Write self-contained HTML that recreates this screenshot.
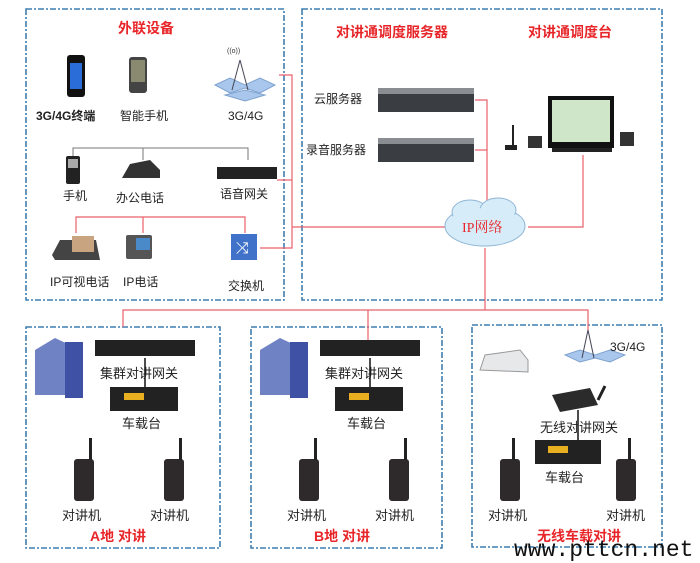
<!DOCTYPE html>
<html><head><meta charset="utf-8"><style>
body{margin:0;background:#fff;}
svg{display:block;font-family:"Liberation Sans","Noto Sans CJK SC",sans-serif;}
.t{font-size:12px;fill:#222;}
.r{font-size:14px;fill:#e8262a;font-weight:bold;}
</style></head><body>
<svg width="700" height="563" viewBox="0 0 700 563">
<g fill="none" stroke="#3f7fb0" stroke-width="1.6" stroke-dasharray="6,2,2,2">
<rect x="26" y="9" width="258" height="291"/>
<rect x="302" y="9" width="360" height="291"/>
<rect x="26" y="327" width="194" height="221"/>
<rect x="251" y="327" width="191" height="221"/>
<rect x="472" y="325" width="190" height="222"/>
</g>
<g stroke="#e8606a" stroke-width="1.2" fill="none">
<polyline points="279,75 292,75 292,248 260,248"/>
<line x1="277" y1="180" x2="292" y2="180"/>
<line x1="292" y1="227" x2="445" y2="227"/>
<polyline points="475,100 487,100 487,205"/>
<line x1="475" y1="150" x2="487" y2="150"/>
<polyline points="583,155 583,227 528,227"/>
<line x1="485" y1="248" x2="485" y2="310"/>
<polyline points="123,327 123,310 588,310 588,330"/>
<line x1="368" y1="310" x2="368" y2="340"/>
<polyline points="76,233 76,217 245,217 245,233"/>
<line x1="143" y1="217" x2="143" y2="233"/>
</g>
<g stroke="#777" stroke-width="1" fill="none">
<polyline points="73,160 73,148 248,148 248,160"/>
<line x1="143" y1="148" x2="143" y2="160"/>
</g>
<text class="r" x="118" y="33">外联设备</text>
<text class="r" x="336" y="37">对讲通调度服务器</text>
<text class="r" x="528" y="37">对讲通调度台</text>
<rect x="67" y="55" width="18" height="42" rx="3" fill="#111"/><rect x="70" y="63" width="12" height="26" fill="#2a6cd8"/>
<rect x="129" y="57" width="18" height="36" rx="3" fill="#444"/><rect x="131" y="60" width="14" height="22" fill="#8a8a70"/>
<text class="t" x="36" y="120" style="font-weight:bold">3G/4G终端</text>
<text class="t" x="120" y="120">智能手机</text>
<g fill="#a9c7ec" stroke="#7fa2cf"><polygon points="215,85 230,78 245,85 260,78 275,85 260,93 245,88 230,93"/><polygon points="225,95 245,90 265,95 245,101"/></g>
<line x1="240" y1="60" x2="232" y2="90" stroke="#445"/><line x1="240" y1="60" x2="248" y2="90" stroke="#445"/>
<text x="227" y="53" style="font-size:7px;fill:#333">((o))</text>
<text class="t" x="228" y="120">3G/4G</text>
<rect x="66" y="156" width="14" height="28" rx="2" fill="#222"/><rect x="68" y="159" width="10" height="9" fill="#aaa"/>
<text class="t" x="63" y="200">手机</text>
<path d="M122,178 L130,164 L150,160 L160,170 L160,178 Z" fill="#333"/>
<text class="t" x="116" y="202">办公电话</text>
<rect x="217" y="167" width="60" height="12" fill="#222"/>
<text class="t" x="220" y="198">语音网关</text>
<path d="M52,255 L60,240 L96,240 L100,260 L55,260 Z" fill="#444"/><rect x="72" y="236" width="22" height="16" fill="#c9a480"/>
<rect x="126" y="235" width="26" height="24" rx="2" fill="#555"/><rect x="136" y="238" width="14" height="12" fill="#4a8ac9"/>
<rect x="231" y="234" width="26" height="26" fill="#3f72c8"/><text x="236" y="253" style="font-size:16px;fill:#fff">⤨</text>
<text class="t" x="50" y="286">IP可视电话</text>
<text class="t" x="123" y="286">IP电话</text>
<text class="t" x="228" y="290">交换机</text>
<rect x="378" y="88" width="96" height="24" fill="#3a3d42"/><rect x="378" y="88" width="96" height="6" fill="#8a8e93"/>
<rect x="378" y="138" width="96" height="24" fill="#3a3d42"/><rect x="378" y="138" width="96" height="6" fill="#8a8e93"/>
<text class="t" x="314" y="103">云服务器</text>
<text class="t" x="306" y="154">录音服务器</text>
<rect x="548" y="96" width="66" height="52" fill="#111"/><rect x="552" y="100" width="58" height="42" fill="#cfe6c8"/>
<rect x="552" y="148" width="60" height="4" fill="#222"/>
<line x1="513" y1="125" x2="513" y2="148" stroke="#222" stroke-width="2"/><rect x="505" y="145" width="12" height="5" fill="#222"/>
<rect x="528" y="136" width="14" height="12" fill="#333"/><rect x="620" y="132" width="14" height="14" fill="#333"/>
<g fill="#d6ecf8" stroke="#8fb6d6"><ellipse cx="485" cy="226" rx="40" ry="20"/><ellipse cx="470" cy="212" rx="18" ry="12"/><ellipse cx="498" cy="210" rx="18" ry="12"/></g>
<ellipse cx="485" cy="226" rx="38" ry="18" fill="#d6ecf8"/>
<text x="462" y="232" style="font-size:14px;fill:#e8262a;font-family:'Liberation Serif','Noto Serif CJK SC',serif">IP网络</text>
<g id="site">
<polygon points="35,350 55,338 70,345 70,395 35,395" fill="#6f82c4"/><rect x="65" y="342" width="18" height="56" fill="#3e51a5"/>
<rect x="95" y="340" width="100" height="16" fill="#222"/>
<line x1="145" y1="358" x2="145" y2="388" stroke="#111" stroke-width="1.5"/>
<text class="t" x="100" y="378" style="font-size:13px">集群对讲网关</text>
<rect x="110" y="387" width="68" height="24" fill="#222"/><rect x="124" y="393" width="20" height="7" fill="#e8b020"/>
<text class="t" x="122" y="428" style="font-size:13px">车载台</text>
<rect x="74" y="459" width="20" height="42" rx="3" fill="#2e2a2c"/><rect x="89" y="438" width="3" height="22" fill="#222"/>
<rect x="164" y="459" width="20" height="42" rx="3" fill="#2e2a2c"/><rect x="179" y="438" width="3" height="22" fill="#222"/>
<text class="t" x="62" y="520" style="font-size:13px">对讲机</text>
<text class="t" x="150" y="520" style="font-size:13px">对讲机</text>
</g>
<use href="#site" transform="translate(225,0)"/>
<text class="r" x="90" y="541">A地 对讲</text>
<text class="r" x="314" y="541">B地 对讲</text>
<path d="M480,370 L485,355 L520,350 L528,360 L528,372 Z" fill="#e6e8ea" stroke="#999"/>
<g fill="#a9c7ec" stroke="#7fa2cf"><polygon points="565,355 580,350 595,355 610,350 625,355 610,362 595,358 580,362"/></g>
<line x1="588" y1="330" x2="582" y2="358" stroke="#445"/><line x1="588" y1="330" x2="594" y2="358" stroke="#445"/>
<text class="t" x="610" y="351">3G/4G</text>
<polygon points="552,395 590,388 598,405 560,412" fill="#2b2b2b"/><line x1="598" y1="400" x2="605" y2="386" stroke="#222" stroke-width="3"/>
<line x1="578" y1="410" x2="578" y2="450" stroke="#111" stroke-width="1.5"/>
<text class="t" x="540" y="432" style="font-size:13px">无线对讲网关</text>
<rect x="535" y="440" width="66" height="24" fill="#222"/><rect x="548" y="446" width="20" height="7" fill="#e8b020"/>
<text class="t" x="545" y="482" style="font-size:13px">车载台</text>
<rect x="500" y="459" width="20" height="42" rx="3" fill="#2e2a2c"/><rect x="512" y="438" width="3" height="22" fill="#222"/>
<rect x="616" y="459" width="20" height="42" rx="3" fill="#2e2a2c"/><rect x="628" y="438" width="3" height="22" fill="#222"/>
<text class="t" x="488" y="520" style="font-size:13px">对讲机</text>
<text class="t" x="606" y="520" style="font-size:13px">对讲机</text>
<text class="r" x="537" y="541">无线车载对讲</text>
<text x="514" y="556" style="font-size:23px;fill:#111;font-family:'Liberation Mono',monospace">www.pttcn.net</text>
</svg>
</body></html>
